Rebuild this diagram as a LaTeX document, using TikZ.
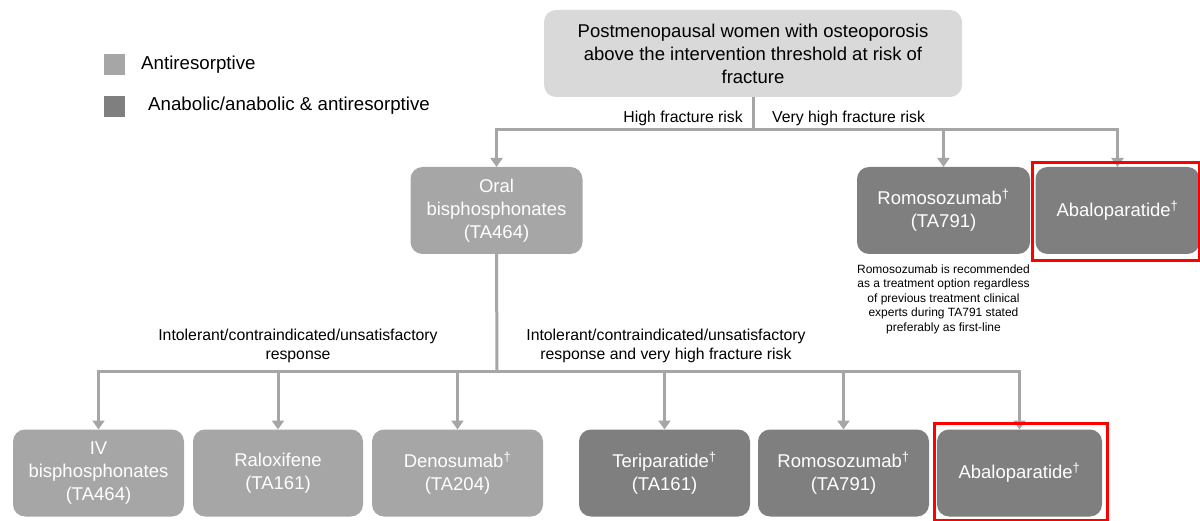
\documentclass[tikz,border=0pt]{standalone}
\usepackage{fontspec}
\setmainfont{Liberation Sans}
\usetikzlibrary{arrows.meta}
\definecolor{antiresorp}{HTML}{A6A6A6}
\definecolor{anabolic}{HTML}{7F7F7F}
\definecolor{popbox}{HTML}{D9D9D9}
\definecolor{flowline}{HTML}{A6A6A6}
\tikzset{
  box/.style={rectangle, rounded corners=12pt, minimum height=87pt,
    inner sep=0pt, outer sep=0pt, align=center, text=white,
    font=\fontsize{18.5}{23}\selectfont},
  lightbox/.style={box, fill=antiresorp},
  darkbox/.style={box, fill=anabolic},
  topbox/.style={box, fill=popbox, text=black},
  legsq/.style={rectangle, minimum size=21pt, inner sep=0pt},
  legtext/.style={anchor=west, inner sep=0pt, font=\fontsize{18.7}{22}\selectfont},
  risklabel/.style={inner sep=0pt, font=\fontsize{15.8}{18.5}\selectfont},
  branchlabel/.style={inner sep=0pt, align=center, font=\fontsize{15.8}{18.5}\selectfont},
  notetext/.style={inner sep=0pt, align=center, font=\fontsize{12}{14.5}\selectfont},
  flow/.style={draw=flowline, line width=3pt},
  flowarrow/.style={flow, -{Triangle[width=12pt,length=9pt]}},
  highlight/.style={draw=red, line width=3pt}
}
\begin{document}
\begin{tikzpicture}[x=1pt,y=-1pt]
\useasboundingbox (0,0) rectangle (1200,521);

% legend
\node[legsq, fill=antiresorp] (legA) at (114,65) {};
\node[legtext] (legAt) at (141,65) {Antiresorptive};
\node[legsq, fill=anabolic] (legB) at (114,107) {};
\node[legtext] (legBt) at (148,106) {Anabolic/anabolic \& antiresorptive};

% population
\node[topbox, minimum width=418pt] (top) at (753,53.5)
  {Postmenopausal women with osteoporosis\\above the intervention threshold at risk of\\fracture};

% first-line options
\node[lightbox, minimum width=172pt] (oral) at (496.5,210.5) {Oral\\bisphosphonates\\(TA464)};
\node[darkbox, minimum width=173pt] (romoA) at (943.5,210.5) {Romosozumab\textsuperscript{†}\\(TA791)};
\node[darkbox, minimum width=164pt] (abaloA) at (1117.5,210.5) {Abaloparatide\textsuperscript{†}};

\node[notetext] (note) at (943.5,299)
  {Romosozumab is recommended\\as a treatment option regardless\\of previous treatment clinical\\experts during TA791 stated\\preferably as first-line};

% subsequent options
\node[lightbox, minimum width=171pt] (iv) at (98.5,473) {IV\\bisphosphonates\\(TA464)};
\node[lightbox, minimum width=170pt] (ralox) at (278,473) {Raloxifene\\(TA161)};
\node[lightbox, minimum width=171pt] (deno) at (457.5,473) {Denosumab\textsuperscript{†}\\(TA204)};
\node[darkbox, minimum width=171pt] (teri) at (664.5,473) {Teriparatide\textsuperscript{†}\\(TA161)};
\node[darkbox, minimum width=171pt] (romoB) at (843.5,473) {Romosozumab\textsuperscript{†}\\(TA791)};
\node[darkbox, minimum width=165pt] (abaloB) at (1019.5,473) {Abaloparatide\textsuperscript{†}};

% branching points
\coordinate (split1) at (753,130);
\coordinate (split2) at (497,372);

% connectors from the population box
\draw[flow] (top.south) -- (split1);
\draw[flowarrow] (split1) -| (oral.north);
\draw[flowarrow] (split1) -| (abaloA.north);
\draw[flowarrow] (romoA.north |- split1) -- (romoA.north);

\node[risklabel, anchor=east] (hfr) at (743,118) {High fracture risk};
\node[risklabel, anchor=west] (vhfr) at (772,118) {Very high fracture risk};

% connectors after oral bisphosphonates
\draw[flow] (oral.south) -- (split2);
\draw[flowarrow] (split2) -| (iv.north);
\draw[flowarrow] (split2) -| (abaloB.north);
\draw[flowarrow] (ralox.north |- split2) -- (ralox.north);
\draw[flowarrow] (deno.north |- split2) -- (deno.north);
\draw[flowarrow] (teri.north |- split2) -- (teri.north);
\draw[flowarrow] (romoB.north |- split2) -- (romoB.north);

\node[branchlabel] (lblA) at (298,346) {Intolerant/contraindicated/unsatisfactory\\response};
\node[branchlabel] (lblB) at (666,346) {Intolerant/contraindicated/unsatisfactory\\response and very high fracture risk};

% highlighted abaloparatide boxes
\draw[highlight] (1032,163) rectangle (1199.5,261);
\draw[highlight] (934,423) rectangle (1107,520);
\end{tikzpicture}
\end{document}
